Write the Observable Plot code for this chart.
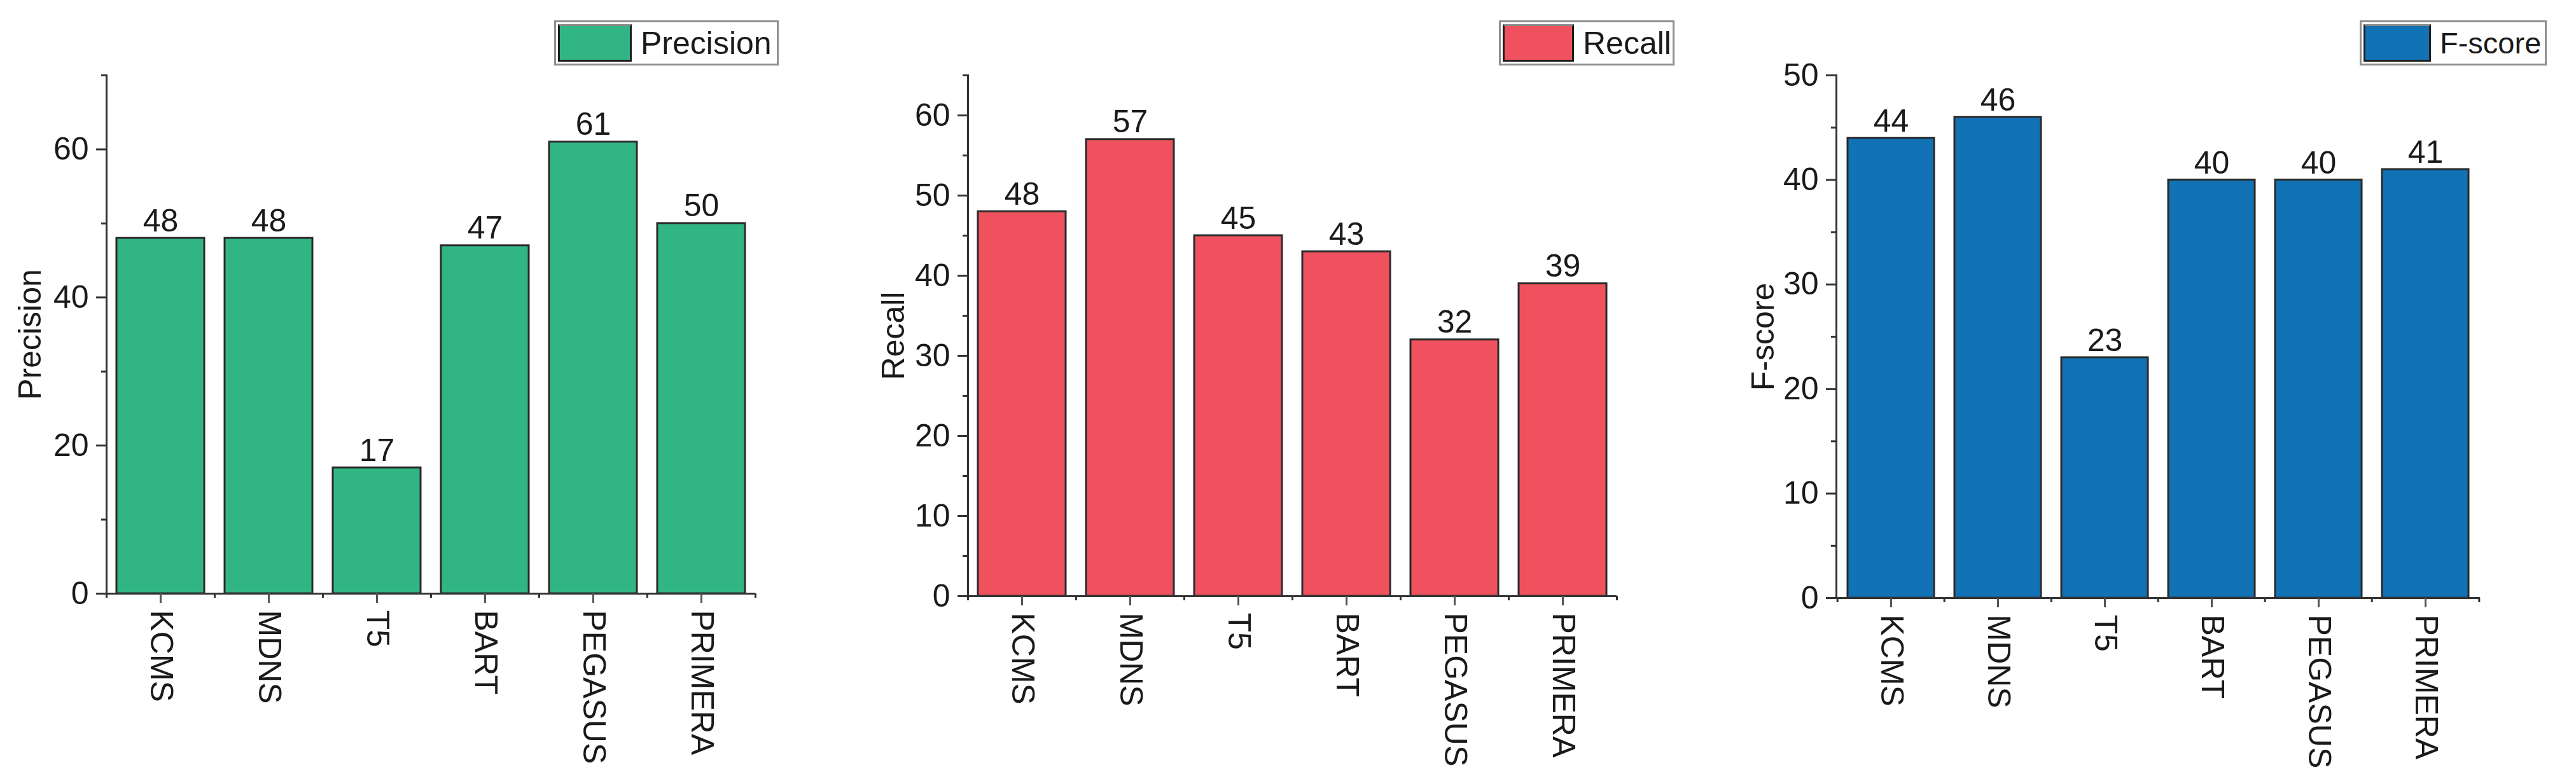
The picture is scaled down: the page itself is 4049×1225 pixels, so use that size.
<!DOCTYPE html>
<html><head><meta charset="utf-8">
<script src="https://cdn.jsdelivr.net/npm/d3@7"></script>
<script src="https://cdn.jsdelivr.net/npm/@observablehq/plot@0.6"></script>
<style>
body{margin:0;background:#fff;}
#root{position:relative;width:4049px;height:1225px;overflow:hidden;font-family:"Liberation Sans",Arial,sans-serif;background:#fff;}
.panel{position:absolute;top:0;}
.legend{position:absolute;box-sizing:border-box;border:3px solid #8f8f8f;background:#fff;display:flex;align-items:center;font-size:50px;color:#1a1a1a;padding-left:3px;white-space:nowrap;overflow:visible;}
.swatch{box-sizing:border-box;border:3px solid #1e1e1e;border-top-color:#8a8a8a;margin-right:14px;flex:none;}
</style></head><body><div id="root"></div>
<script>
// ---- data ----
const models = ["KCMS", "MDNS", "T5", "BART", "PEGASUS", "PRIMERA"];
const precision = [48, 48, 17, 47, 61, 50];
const recall = [48, 57, 45, 43, 32, 39];
const fscore = [44, 46, 23, 40, 40, 41];
const metricNames = ["Precision", "Recall", "F-score"];
const yDomains = [[0, 70], [0, 65], [0, 50]];
const majorTicks = [[0, 20, 40, 60], [0, 10, 20, 30, 40, 50, 60], [0, 10, 20, 30, 40, 50]];
const minorTicks = [[10, 30, 50, 70], [5, 15, 25, 35, 45, 55, 65], [5, 15, 25, 35, 45]];

// ---- styles / layout ----
const colors = ["#32b585", "#ef525e", "#1172b6"];
const layout = [
  {left: 0, width: 1300, mL: 167, mT: 118, mB: 292, mR: 113, labelOffset: 139, valDy: -11,
   lg: {left: 871, top: 32, w: 353, h: 71, sw: 116, fs: 50}},
  {left: 1330, width: 1330, mL: 191, mT: 118, mB: 288, mR: 119, labelOffset: 136, valDy: -11,
   lg: {left: 2356, top: 32, w: 276, h: 71, sw: 112, fs: 50}},
  {left: 2700, width: 1349, mL: 186, mT: 118, mB: 285, mR: 151, labelOffset: 134, valDy: -10,
   lg: {left: 3709, top: 32, w: 294, h: 71, sw: 106, fs: 47}}
];
const series = [precision, recall, fscore];
const root = document.getElementById("root");
const axisColor = "#333";
const textColor = "#1a1a1a";

series.forEach((vals, k) => {
  const L = layout[k];
  const rows = models.map((m, i) => ({model: m, value: vals[i]}));
  const step = (L.width - L.mL - L.mR) / models.length;
  const chart = Plot.plot({
    width: L.width,
    height: 1225,
    marginLeft: L.mL, marginRight: L.mR, marginTop: L.mT, marginBottom: L.mB,
    style: {fontFamily: "'Liberation Sans', Arial, sans-serif", fontSize: "50px", color: textColor, background: "transparent"},
    x: {type: "band", domain: models, paddingInner: 0.19, paddingOuter: 0.095, label: null},
    y: {domain: yDomains[k], label: null},
    marks: [
      Plot.barY(rows, {x: "model", y: "value", fill: colors[k], stroke: "#2a2a2a", strokeWidth: 3}),
      Plot.text(rows, {x: "model", y: "value", text: d => String(d.value), lineAnchor: "bottom", dy: L.valDy, fontSize: 50, fill: textColor}),
      Plot.ruleY([0], {stroke: axisColor, strokeWidth: 3}),
      Plot.frame({anchor: "left", stroke: axisColor, strokeWidth: 3}),
      Plot.axisY({ticks: majorTicks[k], tickSize: 16, tickPadding: 12, fontSize: 50, stroke: axisColor, strokeWidth: 3,
                  fill: textColor, label: metricNames[k], labelAnchor: "center", labelOffset: L.labelOffset, labelArrow: "none"}),
      Plot.axisY({ticks: minorTicks[k], tickSize: 8, tickFormat: () => "", stroke: axisColor, strokeWidth: 3, label: null}),
      Plot.axisX({tickRotate: 90, tickSize: 15, tickPadding: 11, fontSize: 50, stroke: "#555", strokeWidth: 3, fill: textColor, label: null}),
      Plot.axisX(models, {tickSize: 7, tickFormat: () => "", dx: -step / 2, stroke: axisColor, strokeWidth: 3, label: null}),
      Plot.axisX([models[models.length - 1]], {tickSize: 7, tickFormat: () => "", dx: step / 2, stroke: axisColor, strokeWidth: 3, label: null})
    ]
  });
  const wrap = document.createElement("div");
  wrap.className = "panel";
  wrap.style.left = L.left + "px";
  wrap.appendChild(chart);
  root.appendChild(wrap);

  const lg = document.createElement("div");
  lg.className = "legend";
  Object.assign(lg.style, {left: L.lg.left + "px", top: L.lg.top + "px", width: L.lg.w + "px", height: L.lg.h + "px", fontSize: L.lg.fs + "px"});
  const sw = document.createElement("div");
  sw.className = "swatch";
  Object.assign(sw.style, {width: L.lg.sw + "px", height: (L.lg.h - 12) + "px", background: colors[k]});
  const tx = document.createElement("span");
  tx.textContent = metricNames[k];
  lg.appendChild(sw);
  lg.appendChild(tx);
  root.appendChild(lg);
});
</script>
</body></html>
